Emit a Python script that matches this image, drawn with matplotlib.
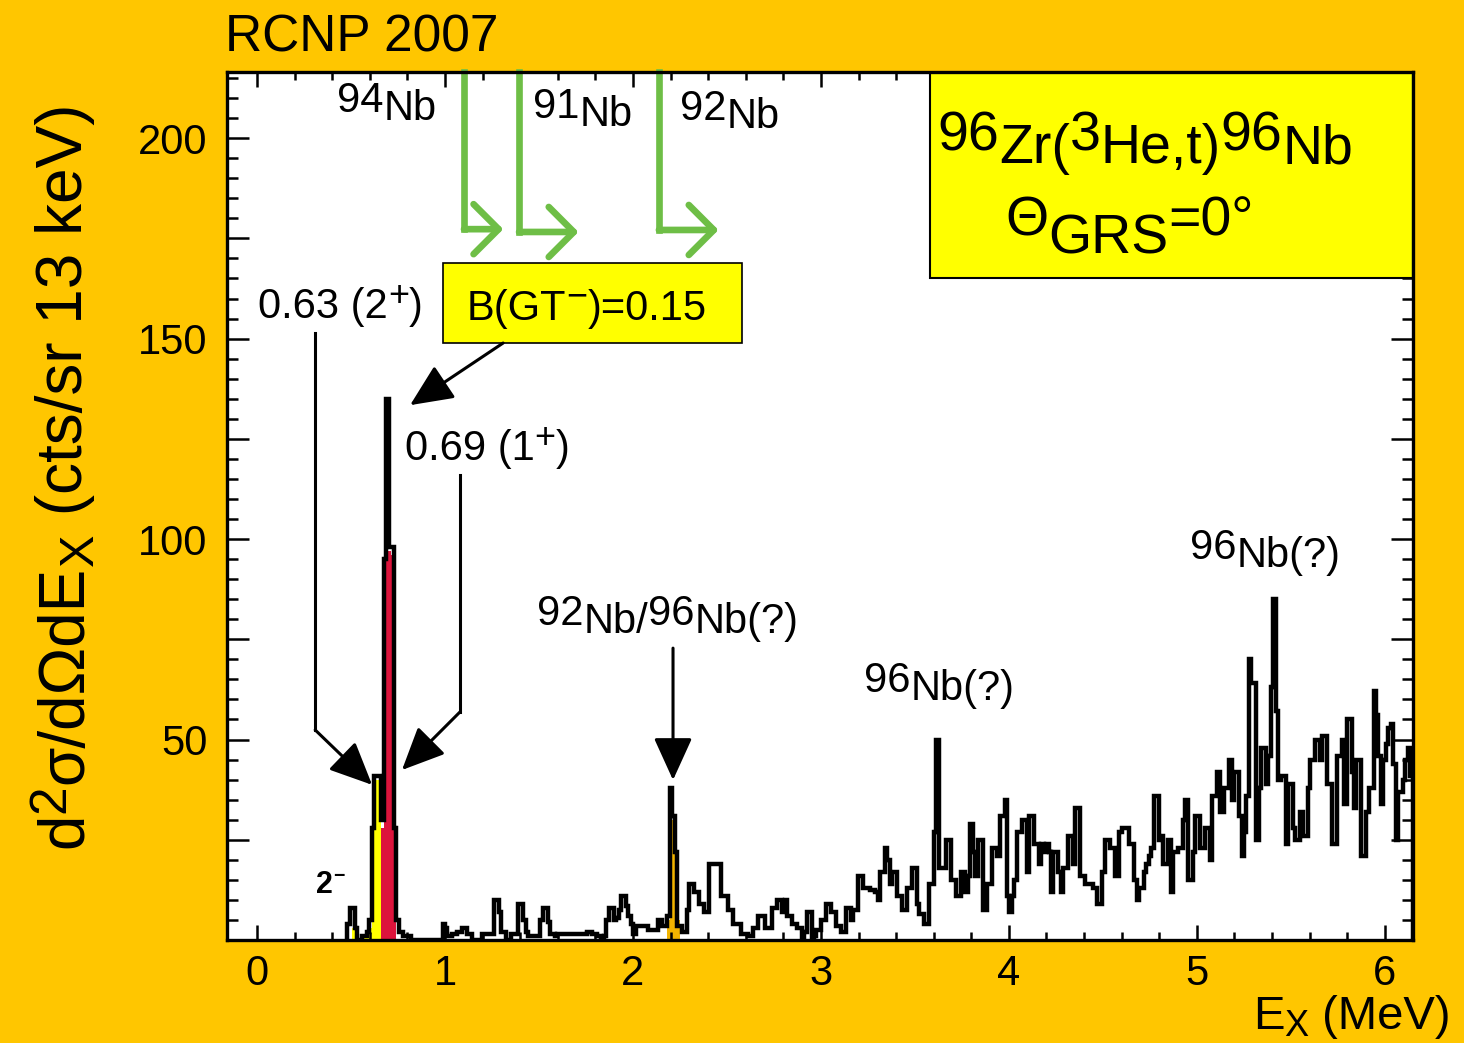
import numpy as np
import matplotlib
matplotlib.use("Agg")
import matplotlib.pyplot as plt
from matplotlib.patches import Rectangle
from matplotlib.ticker import MultipleLocator, FuncFormatter
from matplotlib.transforms import offset_copy

plt.rcParams['font.family'] = ['Liberation Sans', 'DejaVu Sans']

# spectrum: 13 keV bins starting at 0.48 MeV
e_start = 0.48
bin_width = 0.013

counts_low = [4, 8, 8, 3, 0, 0, 1, 1, 2, 5,
              28, 41, 41, 41, 30, 95, 135, 98, 98, 28,
              5, 2, 2, 1, 1, 1, 0, 0, 0, 0,
              0, 0, 0, 0, 0, 0, 0, 0, 0, 4,
              3, 1, 1, 1.5, 1.5, 2, 2, 3, 3, 1.5,
              1.5, 0, 0, 0, 0, 1.5, 1.5, 1.5, 1.5, 1.5,
              10, 10, 7, 2, 2, 0, 0, 1.5, 1.5, 1.5,
              9, 9, 5, 2, 1, 1, 1, 1, 1, 5,
              8, 8, 4.5, 1.5, 1.5, 1, 1.5, 1.5, 1.5, 1.5,
              1.5, 1.5, 1.5, 1.5, 1.5, 1.5, 1.5, 1.5, 2, 2]
counts_mid = [1.5, 1.5, 1, 1, 0, 1, 5, 8, 8, 5,
              5.5, 7.5, 11, 11, 8.5, 6, 4, 1.5, 3.5, 3.5,
              3.5, 3.5, 3.5, 2.5, 2.5, 2.5, 2.5, 5, 5, 3.5,
              3.5, 6, 38, 31, 22, 3.5, 3.5, 2, 2, 7.5,
              14, 14, 12, 12, 9, 9, 7, 7, 19, 19,
              19, 19, 19, 11, 11, 11, 7.5, 7.5, 4, 4,
              4, 1.5, 1.5, 1.5, 1, 1, 3, 3, 6, 6,
              6, 3, 3, 3, 8, 8, 10, 10, 7, 10,
              6, 6, 4, 4, 3, 3, 0.5, 2, 7, 7,
              0.5, 1, 2.5, 2.5, 5, 5, 9, 9, 7, 7]
counts_high = [3.5, 3.5, 2, 2, 8, 8, 5, 7.5, 7.5, 16,
               16, 13, 13, 13, 12.5, 12.5, 12, 10, 17, 17,
               23, 20, 14, 17, 17, 11, 11, 7.5, 7.5, 13,
               13, 18, 18, 9, 6.5, 6.5, 4, 4, 14, 14,
               27, 50, 18, 18, 18, 25, 25, 15, 15, 11,
               11, 17, 17, 12, 16, 29, 22, 16, 25, 25,
               7.5, 7.5, 14, 14, 23, 23, 21, 31, 31, 35,
               11, 7, 11, 15, 27, 27, 30, 30, 17, 31,
               31, 24, 24, 19, 24, 22, 24, 22, 12, 22,
               22, 17, 12, 18, 18, 26, 26, 19, 33, 33,
               16, 16, 14, 14, 14, 13, 13, 9, 9, 17,
               25, 25, 23, 23, 16, 16, 27, 28, 28, 28,
               24, 24, 15, 10, 13, 13, 17, 19, 21, 23]
counts_top = [36, 36, 25, 26, 19, 19, 25, 12, 22, 22,
              23, 23, 30, 35, 15, 15, 22, 31, 31, 23,
              23, 28, 28, 20, 36, 36, 42, 32, 32, 38,
              38, 45, 35, 42, 42, 31, 21, 27, 36, 70,
              64, 64, 25, 38, 48, 48, 39, 46, 63, 85,
              57, 40, 41, 41, 24, 39, 39, 28, 25, 25,
              32, 26, 26, 38, 45, 45, 50, 50, 45, 51,
              51, 39, 39, 24, 24, 46, 46, 50, 34, 55,
              55, 42, 33, 45, 45, 21, 21, 32, 38, 38,
              62, 56, 46, 34, 45, 49, 53, 54, 44, 25,
              37, 37, 40, 45, 48, 41]

# fitted peak components (first bin index, heights)
yellow_start = 2
yellow_fit = [3, 2, 0, 0.5, 0.5, 0.5, 1, 3, 26, 40, 40, 38]
red_start = 14
red_fit = [28, 93, 97, 97, 96, 10]
orange_start = 131
orange_fit = [5, 21, 30, 21, 5]

counts = np.array(counts_low + counts_mid + counts_high + counts_top, dtype=float)
edges = e_start + bin_width * np.arange(len(counts) + 1)

bg = '#FFC600'
green = '#6EBE46'

fig = plt.figure(figsize=(14.64, 10.43), dpi=100, facecolor=bg)
ax = fig.add_axes([227 / 1464, 1 - 940 / 1043, (1413 - 227) / 1464, (940 - 72) / 1043])
ax.set_facecolor('white')


def fill_part(start, heights, color):
    e = edges[start:start + len(heights) + 1]
    ax.stairs(heights, e, fill=True, color=color, lw=0, zorder=1.5)


fill_part(yellow_start, yellow_fit, '#FFFF00')
fill_part(red_start, red_fit, '#DC143C')
fill_part(orange_start, orange_fit, '#F2B400')
ax.stairs(counts, edges, color='black', lw=3.2, zorder=2)

ax.set_xlim(-0.16, 6.15)
ax.set_ylim(0, 216.5)

ax.xaxis.set_major_locator(MultipleLocator(1))
ax.xaxis.set_minor_locator(MultipleLocator(0.2))
ax.yaxis.set_major_locator(MultipleLocator(25))
ax.yaxis.set_minor_locator(MultipleLocator(5))
ax.yaxis.set_major_formatter(FuncFormatter(lambda v, p: f"{v:.0f}" if v > 0 and v % 50 == 0 else ""))
ax.xaxis.set_major_formatter(FuncFormatter(lambda v, p: f"{v:.0f}"))

ax.tick_params(axis='x', which='major', length=11, width=1.8, direction='in', top=True, labelsize=30, pad=10)
ax.tick_params(axis='x', which='minor', length=5.5, width=1.8, direction='in', top=True)
ax.tick_params(axis='y', which='major', length=16, width=1.8, direction='in', right=True, labelsize=30, pad=14)
ax.tick_params(axis='y', which='minor', length=8, width=1.8, direction='in', right=True)
for s in ax.spines.values():
    s.set_linewidth(2.4)

# boxes
ax.add_patch(Rectangle((3.58, 165.1), 6.15 - 3.58, 216.5 - 165.1, facecolor='#FFFF00',
                       edgecolor='black', lw=1.5, zorder=1.8))
ax.add_patch(Rectangle((0.989, 148.9), 1.591, 19.9, facecolor='#FFFF00',
                       edgecolor='black', lw=1.2, zorder=1.8))

renderer = fig.canvas.get_renderer()


def rich_text(x, y, parts, transform, rotation=0, **kw):
    # parts: (text, rise in points, size in points)
    adv = 0.0
    for s, rise, size in parts:
        if rotation == 90:
            tr = offset_copy(transform, fig=fig, x=-rise, y=adv, units='points')
        else:
            tr = offset_copy(transform, fig=fig, x=adv, y=rise, units='points')
        t = fig.text(x, y, s, transform=tr, fontsize=size, rotation=rotation,
                     rotation_mode='anchor', ha='left', va='baseline', **kw)
        bb = t.get_window_extent(renderer)
        adv += (bb.height if rotation == 90 else bb.width) * 72 / fig.dpi


def nuc(x, y, a, rest, size=30, rise=6):
    rich_text(x, y, [(a, rise, size), (rest, 0, size)], ax.transData)


nuc(0.426, 204.5, "94", "Nb")
nuc(1.468, 203.0, "91", "Nb")
nuc(2.25, 202.5, "92", "Nb")
rich_text(1.489, 76.6, [("92", 6, 30), ("Nb/", 0, 30), ("96", 6, 30), ("Nb(?)", 0, 30)], ax.transData)
nuc(3.229, 59.9, "96", "Nb(?)")
nuc(4.963, 93.0, "96", "Nb(?)")

rich_text(0.005, 155.1, [("0.63 (2", 0, 30), ("+", 9, 26), (")", 0, 30)], ax.transData)
rich_text(0.787, 119.7, [("0.69 (1", 0, 30), ("+", 9, 26), (")", 0, 30)], ax.transData)
rich_text(1.117, 154.6, [("B(GT", 0, 30), ("\u2212", 10, 26), (")=0.15", 0, 30)], ax.transData)
rich_text(0.314, 11.7, [("2", 0, 22), ("\u2212", 9, 14)], ax.transData, fontweight='bold')

rich_text(3.617, 193.8, [("96", 9, 40), ("Zr(", 0, 40), ("3", 9, 40), ("He,t)", 0, 40),
                         ("96", 9, 40), ("Nb", 0, 40)], ax.transData)
rich_text(3.979, 171.3, [("\u0398", 13, 40), ("GRS", 0, 40), ("=0\u00b0", 13, 40)], ax.transData)

# black arrows
arrow_kw = dict(arrowstyle='-|>,head_length=0.55,head_width=0.25', color='black', lw=2.2,
                mutation_scale=48, shrinkA=0, shrinkB=0)
ax.annotate('', xy=(0.814, 133.4), xytext=(1.309, 148.9), arrowprops=arrow_kw)
ax.plot([0.309, 0.309], [151.4, 52.4], color='black', lw=2.2)
ax.annotate('', xy=(0.612, 38.7), xytext=(0.309, 52.4), arrowprops=arrow_kw)
ax.plot([1.080, 1.080], [116.0, 56.9], color='black', lw=2.2)
ax.annotate('', xy=(0.771, 42.4), xytext=(1.080, 56.9), arrowprops=arrow_kw)
ax.annotate('', xy=(2.213, 39.9), xytext=(2.213, 72.8), arrowprops=arrow_kw)

# green arrows
for gx, gy, gend in [(1.101, 177.3, 1.31), (1.394, 176.6, 1.71), (2.138, 177.1, 2.455)]:
    ax.plot([gx, gx], [216.5, gy], color=green, lw=4.8, solid_capstyle='projecting', clip_on=False)
    ax.annotate('', xy=(gend, gy), xytext=(gx, gy),
                arrowprops=dict(arrowstyle='->,head_length=0.45,head_width=0.45', color=green,
                                lw=4.8, mutation_scale=40, shrinkA=0, shrinkB=0))

# outside texts (figure pixel positions)
px = lambda x, y: (x / 1464, 1 - y / 1043)
fig.text(*px(225, 52), "RCNP 2007", fontsize=37, ha='left', va='baseline')
rich_text(*px(1253, 1029), [("E", 0, 34), ("X", -5, 26), (" (MeV)", 0, 34)], fig.transFigure)
rich_text(*px(82, 848), [("d", 0, 46), ("2", 13, 37), ("\u03c3/d\u03a9dE", 0, 46), ("X", -8, 35),
                         (" (cts/sr 13 keV)", 0, 46)], fig.transFigure, rotation=90)

fig.savefig("out.png", dpi=100, facecolor=bg)
